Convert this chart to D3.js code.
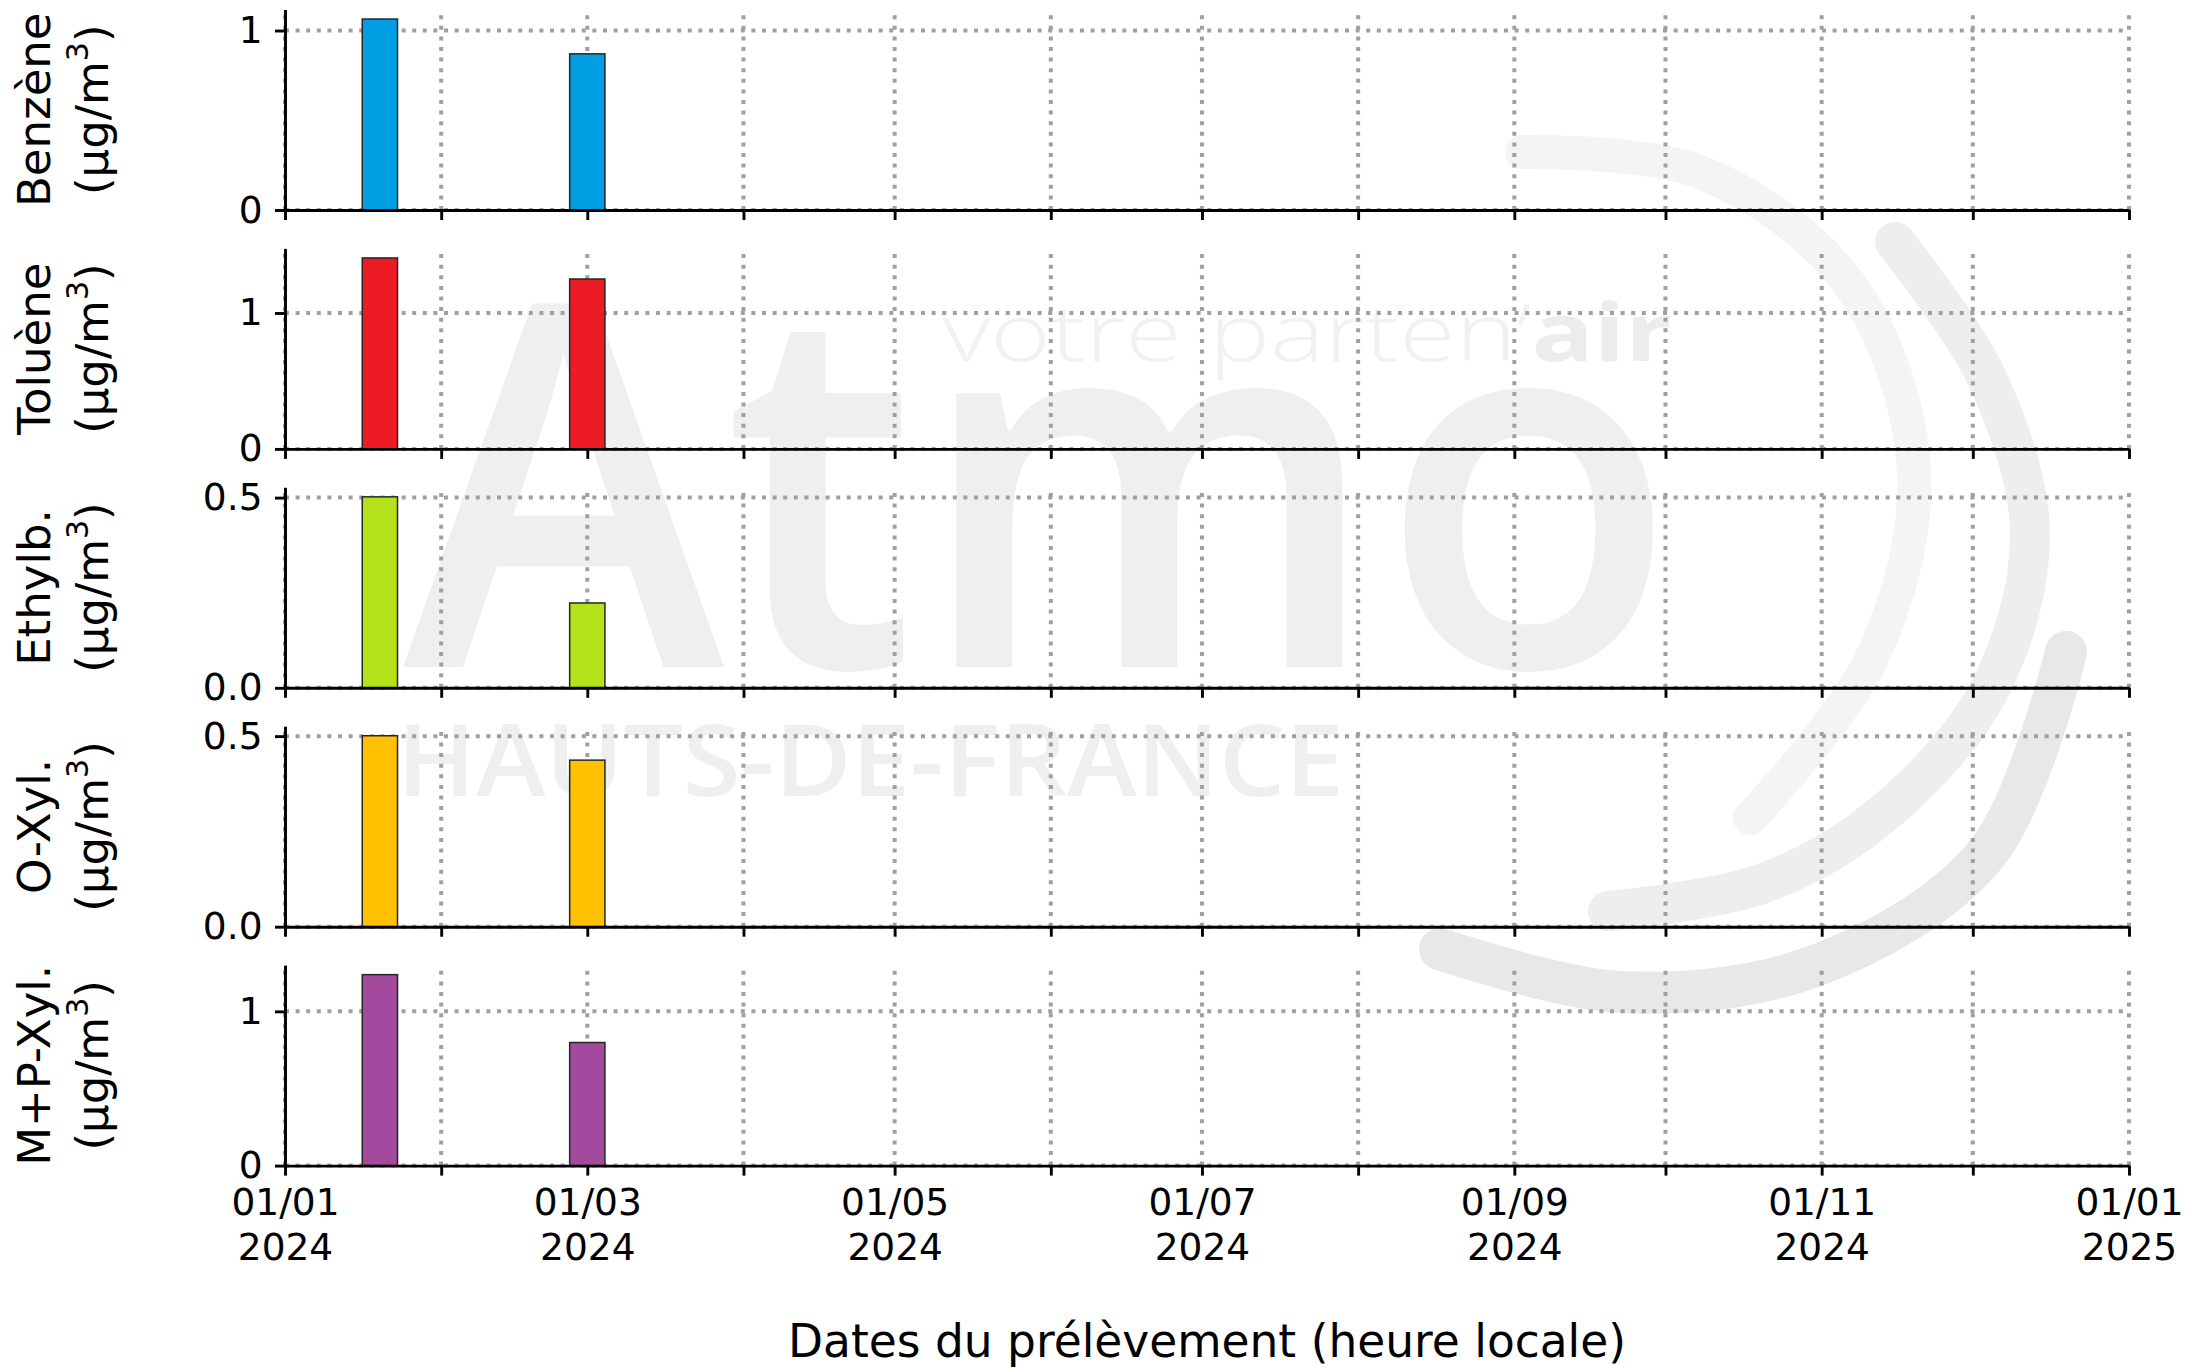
<!DOCTYPE html>
<html lang="fr">
<head>
<meta charset="UTF-8">
<title>BTEX - prélèvements 2024</title>
<style>
    body { margin: 0; background: #fff; }
    svg text { font-family: "DejaVu Sans", sans-serif; fill: #000; }
    .axis .domain { stroke: #000; stroke-width: 2.9; }
    .axis .tick line { stroke: #000; stroke-width: 2.9; }
    .axis text { font-size: 37.5px; }
    .grid line { stroke: #a0a0a0; stroke-width: 4; stroke-dasharray: 4 6.6; }
    .bar { stroke: #262626; stroke-width: 1.5; }
    .wm { font-family: "Open Sans", sans-serif; }
</style>
</head>
<body>
<div id="chart"></div>
<script src="https://d3js.org/d3.v7.min.js"></script>
<script>
    // sampling dates (bar centres) and duration of each sample
    const sampleDates = ["2024-01-19T20:00:00Z", "2024-03-01T00:00:00Z"];
    const sampleDays = 7;

    const pollutants = ["Benzène", "Toluène", "Ethylb.", "O-Xyl.", "M+P-Xyl."];
    const benzene = [1.064, 0.870];
    const toluene = [1.405, 1.250];
    const ethylb = [0.502, 0.223];
    const oXyl = [0.501, 0.437];
    const mpXyl = [1.238, 0.798];
    const seriesValues = [benzene, toluene, ethylb, oXyl, mpXyl];
    const colors = ["#009fe3", "#ed1c24", "#b5e31b", "#ffc000", "#a3499e"];

    const yTickValues = [[0, 1], [0, 1], [0, 0.5], [0, 0.5], [0, 1]];
    const yTickLabels = [["0", "1"], ["0", "1"], ["0.0", "0.5"], ["0.0", "0.5"], ["0", "1"]];

    const xStart = new Date(Date.UTC(2024, 0, 1));
    const xEnd = new Date(Date.UTC(2025, 0, 1));
    const unitLabel = "(µg/m";

    const W = 2190, H = 1367;
    const left = 285, right = 2129;
    const panelTop = 9.5, panelH = 200.5, panelStep = 238.9;

    const svg = d3.select('#chart').append('svg')
        .attr('width', W).attr('height', H)
        .attr('viewBox', `0 0 ${W} ${H}`);

    // --- watermark (logo) ---
    const wm = svg.append('g').attr('class', 'watermark');
    wm.append('text').attr('class', 'wm')
        .attr('x', 403).attr('y', 667)
        .attr('font-size', 507).attr('font-weight', 600)
        .attr('textLength', 1274).attr('lengthAdjust', 'spacingAndGlyphs')
        .style('fill', '#efefef').text('Atmo');
    const wmTag = wm.append('text').attr('class', 'wm')
        .attr('x', 943).attr('y', 361).attr('font-size', 80)
        .attr('textLength', 729).attr('lengthAdjust', 'spacingAndGlyphs');
    wmTag.append('tspan').attr('font-weight', 300).style('fill', '#f1f1f1').text('votre parten’');
    wmTag.append('tspan').attr('font-weight', 700).style('fill', '#ececec').text('air');
    wm.append('text').attr('class', 'wm')
        .attr('x', 397).attr('y', 796).attr('font-size', 100).attr('font-weight', 600)
        .attr('textLength', 947).attr('lengthAdjust', 'spacingAndGlyphs')
        .style('fill', '#efefef').text('HAUTS-DE-FRANCE');
    const arcLine = d3.line().curve(d3.curveCatmullRom);
    const arcs = [
        { c: '#f4f4f4', w: 34, p: [[1522, 152], [1700, 172], [1850, 285], [1914, 471], [1871, 660], [1750, 818]] },
        { c: '#eeeeee', w: 40, p: [[1895, 242], [1987, 378], [2030, 535], [1987, 694], [1873, 822], [1758, 885], [1608, 911]] },
        { c: '#e8e8e8', w: 42, p: [[2066, 652], [1987, 853], [1815, 966], [1620, 992], [1440, 949]] }
    ];
    wm.selectAll('path').data(arcs).enter().append('path')
        .attr('d', d => arcLine(d.p))
        .attr('fill', 'none').attr('stroke', d => d.c)
        .attr('stroke-width', d => d.w).attr('stroke-linecap', 'round');

    // --- panels ---
    const x = d3.scaleUtc().domain([xStart, xEnd]).range([left, right]);
    const months = d3.utcMonth.range(xStart, new Date(Date.UTC(2025, 0, 2)));
    const dates = sampleDates.map(d => new Date(d));
    const halfMs = sampleDays * 86400000 / 2;
    const fmtDay = d3.utcFormat('%d/%m');
    const fmtYear = d3.utcFormat('%Y');

    pollutants.forEach((name, i) => {
        const top = panelTop + i * panelStep;
        const bottom = top + panelH;
        const vals = seriesValues[i];
        const y = d3.scaleLinear()
            .domain([0, d3.max(vals) * 1.05])
            .range([bottom, top]);

        const g = svg.append('g');

        // grid
        const grid = g.append('g').attr('class', 'grid');
        grid.selectAll('.vg').data(months).enter().append('line')
            .attr('x1', d => x(d)).attr('x2', d => x(d))
            .attr('y1', bottom).attr('y2', top);
        grid.selectAll('.hg').data(yTickValues[i]).enter().append('line')
            .attr('x1', left).attr('x2', right)
            .attr('y1', d => y(d)).attr('y2', d => y(d));

        // bars
        g.selectAll('.bar').data(vals).enter().append('rect')
            .attr('class', 'bar')
            .attr('x', (d, j) => x(new Date(dates[j].getTime() - halfMs)))
            .attr('width', (d, j) => x(new Date(dates[j].getTime() + halfMs)) - x(new Date(dates[j].getTime() - halfMs)))
            .attr('y', d => y(d))
            .attr('height', d => bottom - y(d))
            .attr('fill', colors[i]);

        // axes
        const isLast = i === pollutants.length - 1;
        const xAxis = d3.axisBottom(x).tickValues(months)
            .tickSize(10).tickSizeOuter(0).tickPadding(12.7)
            .tickFormat(() => '');
        const xg = g.append('g').attr('class', 'axis')
            .attr('transform', `translate(0,${bottom})`).call(xAxis);
        if (isLast) {
            xg.selectAll('.tick text').each(function (d) {
                if (d.getUTCMonth() % 2 !== 0) return;
                const t = d3.select(this);
                t.append('tspan').attr('x', 0).text(fmtDay(d));
                t.append('tspan').attr('x', 0).attr('dy', '1.2em').text(fmtYear(d));
            });
        }

        const yAxis = d3.axisLeft(y).tickValues(yTickValues[i])
            .tickSize(10).tickSizeOuter(0).tickPadding(12.5)
            .tickFormat((d, k) => yTickLabels[i][k]);
        g.append('g').attr('class', 'axis')
            .attr('transform', `translate(${left},0)`).call(yAxis);

        // y label, two lines
        const cy = (top + bottom) / 2;
        g.append('text')
            .attr('transform', `translate(50,${cy}) rotate(-90)`)
            .attr('text-anchor', 'middle').attr('font-size', 45)
            .text(name);
        const unit = g.append('text')
            .attr('transform', `translate(107.5,${cy}) rotate(-90)`)
            .attr('text-anchor', 'middle').attr('font-size', 45);
        unit.append('tspan').text(unitLabel);
        unit.append('tspan').attr('font-size', 30).attr('dy', -19.5).text('3');
        unit.append('tspan').attr('dy', 19.5).text(')');
    });

    svg.append('text')
        .attr('x', (left + right) / 2).attr('y', 1357)
        .attr('text-anchor', 'middle').attr('font-size', 45.5)
        .text('Dates du prélèvement (heure locale)');
</script>
</body>
</html>
